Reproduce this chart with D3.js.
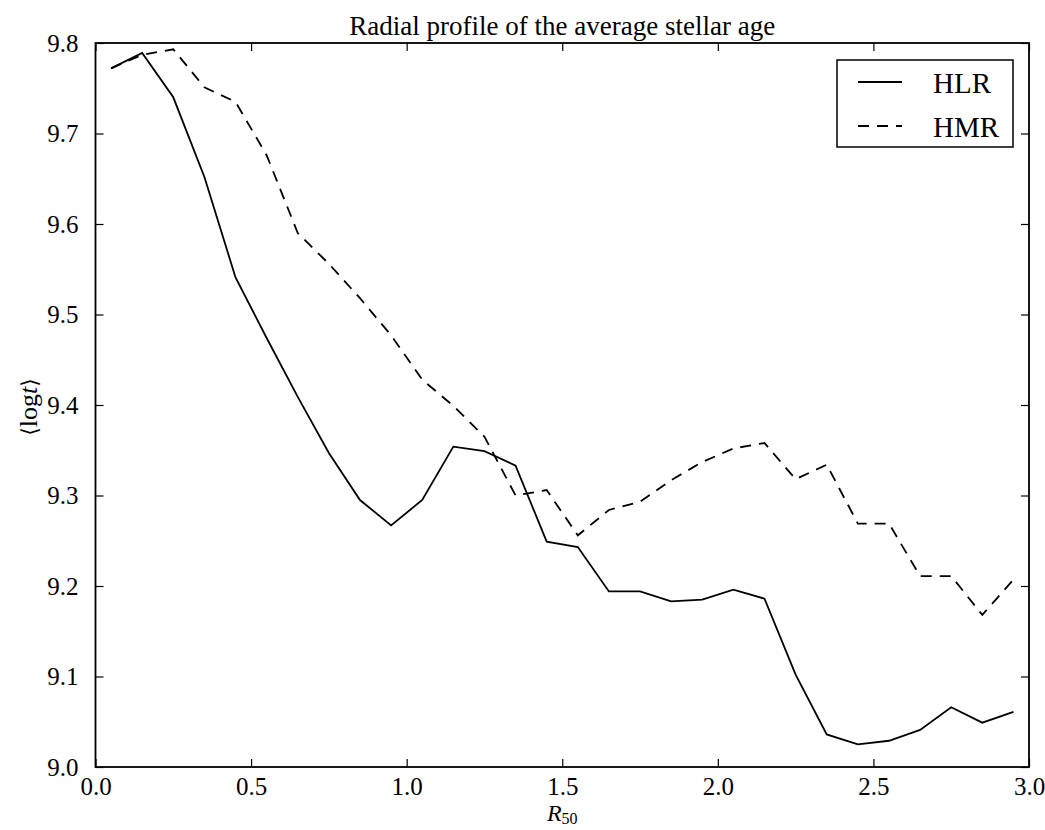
<!DOCTYPE html>
<html><head><meta charset="utf-8">
<script src="https://cdn.jsdelivr.net/npm/d3@7"></script>
<style>body{margin:0;background:#fff}svg{display:block}text{font-family:"Liberation Serif","DejaVu Serif",serif;fill:#000}</style>
</head><body>
<script>
const radius = [0.05,0.15,0.25,0.35,0.45,0.55,0.65,0.75,0.85,0.95,1.05,1.15,1.25,1.35,1.45,1.55,1.65,1.75,1.85,1.95,2.05,2.15,2.25,2.35,2.45,2.55,2.65,2.75,2.85,2.95];
const hlr = [9.772,9.789,9.740,9.652,9.541,9.474,9.409,9.347,9.295,9.267,9.295,9.354,9.349,9.333,9.249,9.243,9.194,9.194,9.183,9.185,9.196,9.186,9.102,9.036,9.025,9.029,9.041,9.066,9.049,9.061];
const hmr = [9.772,9.787,9.793,9.751,9.735,9.676,9.590,9.556,9.518,9.477,9.428,9.399,9.365,9.300,9.306,9.256,9.284,9.293,9.317,9.337,9.352,9.358,9.318,9.334,9.269,9.269,9.211,9.211,9.168,9.207];
const xTicks = [0.0,0.5,1.0,1.5,2.0,2.5,3.0];
const yTicks = [9.0,9.1,9.2,9.3,9.4,9.5,9.6,9.7,9.8];
const seriesNames = ["HLR","HMR"];

const SERIF='"Liberation Serif","DejaVu Serif",serif';
const W=1045,H=830;
const L=95.5,R=1029,T=43,B=767;
const svg=d3.select("body").append("svg").attr("width",W).attr("height",H);
const x=d3.scaleLinear().domain([0,3]).range([L,R]);
const y=d3.scaleLinear().domain([9.0,9.8]).range([B,T]);

const tickLen=8;
function styleAxis(g){
  g.select(".domain").remove();
  g.attr("font-family",null).attr("font-size",null);
  g.selectAll("line").attr("stroke","#000").attr("stroke-width",1.2);
  g.selectAll("text").style("font-family",SERIF).style("font-size","25px").attr("fill","#000");
}
svg.append("g").attr("transform",`translate(0,${B})`)
  .call(d3.axisBottom(x).tickValues(xTicks).tickFormat(d3.format(".1f")).tickSizeInner(-tickLen).tickSizeOuter(0).tickPadding(10))
  .call(styleAxis);
svg.append("g").attr("transform",`translate(0,${T})`)
  .call(d3.axisTop(x).tickValues(xTicks).tickFormat("").tickSizeInner(-tickLen).tickSizeOuter(0))
  .call(styleAxis);
svg.append("g").attr("transform",`translate(${L},0)`)
  .call(d3.axisLeft(y).tickValues(yTicks).tickFormat(d3.format(".1f")).tickSizeInner(-tickLen).tickSizeOuter(0).tickPadding(17))
  .call(styleAxis);
svg.append("g").attr("transform",`translate(${R},0)`)
  .call(d3.axisRight(y).tickValues(yTicks).tickFormat("").tickSizeInner(-tickLen).tickSizeOuter(0))
  .call(styleAxis);

const line=d3.line().x((d,i)=>x(radius[i])).y(d=>y(d));
svg.append("path").datum(hlr).attr("d",line).attr("fill","none").attr("stroke","#000").attr("stroke-width",1.8);
svg.append("path").datum(hmr).attr("d",line).attr("fill","none").attr("stroke","#000").attr("stroke-width",1.8).attr("stroke-dasharray","11,8");

svg.append("rect").attr("x",L).attr("y",T).attr("width",R-L).attr("height",B-T).attr("fill","none").attr("stroke","#000").attr("stroke-width",1.8);

svg.append("text").attr("x",(L+R)/2).attr("y",35).attr("text-anchor","middle").style("font-size","27px").text("Radial profile of the average stellar age");

const xl=svg.append("text").attr("x",(L+R)/2).attr("y",821).attr("text-anchor","middle").style("font-size","24px");
xl.append("tspan").attr("font-style","italic").text("R");
xl.append("tspan").style("font-size","16px").attr("dy",3).text("50");

const yl=svg.append("text").attr("transform",`translate(37,407) rotate(-90)`).attr("text-anchor","middle").style("font-size","26px");
yl.append("tspan").style("font-family","DejaVu Serif").style("font-size","22px").text("\u27E8");
yl.append("tspan").text("log");
yl.append("tspan").attr("font-style","italic").text("t");
yl.append("tspan").style("font-family","DejaVu Serif").style("font-size","22px").text("\u27E9");

const lg=svg.append("g");
lg.append("rect").attr("x",837).attr("y",60).attr("width",176).attr("height",87).attr("fill","#fff").attr("stroke","#000").attr("stroke-width",1.5);
seriesNames.forEach((n,i)=>{
  const yy=82+i*44;
  lg.append("line").attr("x1",858).attr("x2",902).attr("y1",yy).attr("y2",yy).attr("stroke","#000").attr("stroke-width",1.8).attr("stroke-dasharray",i?"11,8":null);
  lg.append("text").attr("x",933).attr("y",yy+11).style("font-size","29px").text(n);
});
</script>
</body></html>
